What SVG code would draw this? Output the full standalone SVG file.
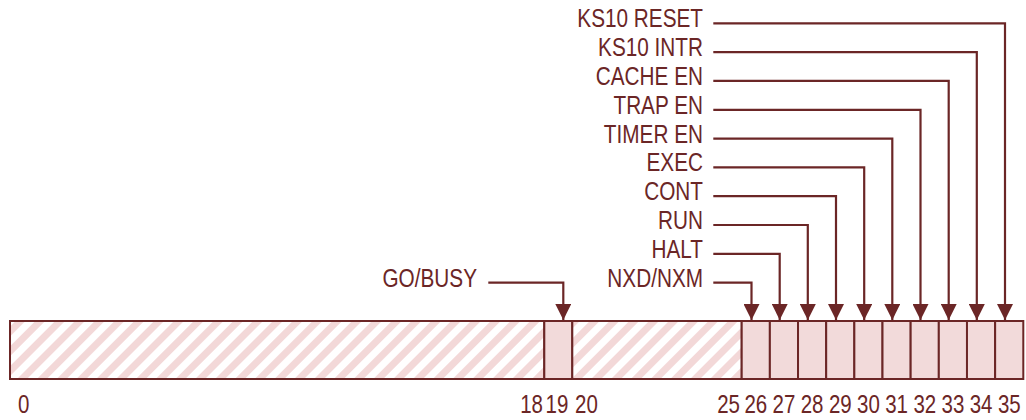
<svg xmlns="http://www.w3.org/2000/svg" width="1026" height="420" viewBox="0 0 1026 420">
<style>
text{font-family:"Liberation Sans",Arial,sans-serif;font-size:25px;fill:#6b2626}
.lbl{text-anchor:end}
.num{text-anchor:middle}
.cell{fill:#f2dada;stroke:#6b2626;stroke-width:2}
.hatch{fill:url(#hatch);stroke:#6b2626;stroke-width:2}
.conn{fill:none;stroke:#6b2626;stroke-width:2.2;marker-end:url(#arr)}
</style>
<defs>
<pattern id="hatch" patternUnits="userSpaceOnUse" width="14" height="14" patternTransform="rotate(45)">
<rect width="14" height="14" fill="#ffffff"/>
<rect width="7" height="14" fill="#f3d8d8"/>
</pattern>
<marker id="arr" markerUnits="userSpaceOnUse" markerWidth="16" markerHeight="16" refX="15" refY="7.5" orient="auto" viewBox="0 0 15 15">
<path d="M0,0 L15,7.5 L0,15 z" fill="#6b2626"/>
</marker>
</defs>
<g id="register">
<rect id="f0_18" class="hatch" x="10" y="321" width="534.3" height="58"/>
<rect id="b19" class="cell" x="544.3" y="321" width="28" height="58"/>
<rect id="f20_25" class="hatch" x="572.3" y="321" width="169.4" height="58"/>
<rect id="b26" class="cell" x="741.7" y="321" width="28.16" height="58"/>
<rect id="b27" class="cell" x="769.86" y="321" width="28.16" height="58"/>
<rect id="b28" class="cell" x="798.02" y="321" width="28.16" height="58"/>
<rect id="b29" class="cell" x="826.18" y="321" width="28.16" height="58"/>
<rect id="b30" class="cell" x="854.34" y="321" width="28.16" height="58"/>
<rect id="b31" class="cell" x="882.5" y="321" width="28.16" height="58"/>
<rect id="b32" class="cell" x="910.66" y="321" width="28.16" height="58"/>
<rect id="b33" class="cell" x="938.82" y="321" width="28.16" height="58"/>
<rect id="b34" class="cell" x="966.98" y="321" width="28.16" height="58"/>
<rect id="b35" class="cell" x="995.14" y="321" width="28.16" height="58"/>
</g>
<g id="bitnumbers">
<text transform="translate(18,413) scale(0.82,1)">0</text>
<text transform="translate(543,413) scale(0.82,1)" class="lbl">18</text>
<text transform="translate(557,413) scale(0.82,1)" class="num">19</text>
<text transform="translate(575,413) scale(0.82,1)">20</text>
<text transform="translate(740,413) scale(0.82,1)" class="lbl">25</text>
<text transform="translate(755.8,413) scale(0.82,1)" class="num">26</text>
<text transform="translate(783.9,413) scale(0.82,1)" class="num">27</text>
<text transform="translate(812.1,413) scale(0.82,1)" class="num">28</text>
<text transform="translate(840.3,413) scale(0.82,1)" class="num">29</text>
<text transform="translate(868.4,413) scale(0.82,1)" class="num">30</text>
<text transform="translate(896.6,413) scale(0.82,1)" class="num">31</text>
<text transform="translate(924.8,413) scale(0.82,1)" class="num">32</text>
<text transform="translate(952.9,413) scale(0.82,1)" class="num">33</text>
<text transform="translate(981.1,413) scale(0.82,1)" class="num">34</text>
<text transform="translate(1009.3,413) scale(0.82,1)" class="num">35</text>
</g>
<g id="labels">
<g id="n35"><text transform="translate(703,27.3) scale(0.83,1)" class="lbl">KS10 RESET</text></g>
<g id="n34"><text transform="translate(703,56.1) scale(0.83,1)" class="lbl">KS10 INTR</text></g>
<g id="n33"><text transform="translate(703,84.9) scale(0.83,1)" class="lbl">CACHE EN</text></g>
<g id="n32"><text transform="translate(703,113.8) scale(0.83,1)" class="lbl">TRAP EN</text></g>
<g id="n31"><text transform="translate(703,142.6) scale(0.83,1)" class="lbl">TIMER EN</text></g>
<g id="n30"><text transform="translate(703,171.4) scale(0.83,1)" class="lbl">EXEC</text></g>
<g id="n29"><text transform="translate(703,200.2) scale(0.83,1)" class="lbl">CONT</text></g>
<g id="n28"><text transform="translate(703,229) scale(0.83,1)" class="lbl">RUN</text></g>
<g id="n27"><text transform="translate(703,257.9) scale(0.83,1)" class="lbl">HALT</text></g>
<g id="n26"><text transform="translate(703,286.7) scale(0.83,1)" class="lbl">NXD/NXM</text></g>
<g id="n19"><text transform="translate(477,286.7) scale(0.83,1)" class="lbl">GO/BUSY</text></g>
</g>
<g id="connectors">
<path class="conn" d="M713.3,23.3 H1005 V320"/>
<path class="conn" d="M713.3,52.1 H976.8 V320"/>
<path class="conn" d="M713.3,80.9 H948.7 V320"/>
<path class="conn" d="M713.3,109.8 H920.5 V320"/>
<path class="conn" d="M713.3,138.6 H892.3 V320"/>
<path class="conn" d="M713.3,167.4 H864.2 V320"/>
<path class="conn" d="M713.3,196.2 H836 V320"/>
<path class="conn" d="M713.3,225 H807.8 V320"/>
<path class="conn" d="M713.3,253.9 H779.7 V320"/>
<path class="conn" d="M713.3,282.7 H751.5 V320"/>
<path class="conn" d="M488.3,282.7 H563.3 V320"/>
</g>
</svg>
